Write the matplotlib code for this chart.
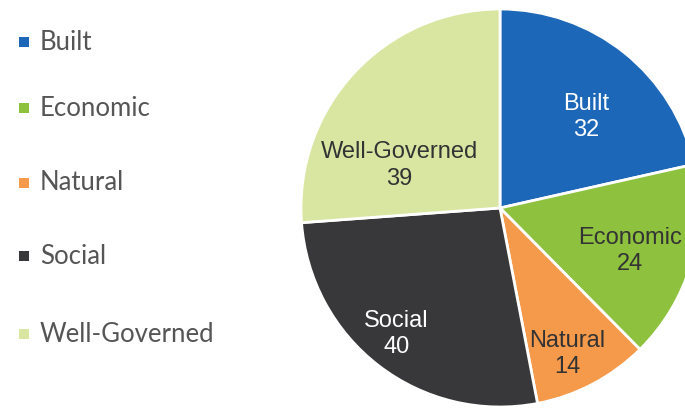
import numpy as np
import matplotlib
matplotlib.use("Agg")
import matplotlib.pyplot as plt
from matplotlib.patches import Rectangle

# Capital categories and their counts
categories = ["Built", "Economic", "Natural", "Social", "Well-Governed"]
counts = [32, 24, 14, 40, 39]
colors = ["#1c67b7", "#8dc13e", "#f59a4b", "#38383a", "#d8e6a2"]
label_colors = ["white", "#333333", "#333333", "white", "#333333"]

# label placement inside each wedge: (radius fraction, angle offset in degrees)
label_radius = [0.63, 0.69, 0.81, 0.82, 0.55]
label_angle_shift = [-5, -2, -3, -2, 20]

fig = plt.figure(figsize=(6.85, 4.08), dpi=100)
W, H = 685, 408
cx, cy, r = 500, 208, 199
ax = fig.add_axes([(cx - r) / W, (H - cy - r) / H, 2 * r / W, 2 * r / H])

wedges, _ = ax.pie(counts, colors=colors, startangle=90, counterclock=False,
                   radius=1.0,
                   wedgeprops=dict(edgecolor="white", linewidth=2.0))
ax.set_xlim(-1, 1)
ax.set_ylim(-1, 1)
ax.set_aspect("equal")
ax.axis("off")

for w, name, val, lc, rf, da in zip(wedges, categories, counts, label_colors,
                                    label_radius, label_angle_shift):
    mid = np.deg2rad((w.theta1 + w.theta2) / 2 + da)
    x, y = rf * np.cos(mid), rf * np.sin(mid)
    ax.text(x, y, f"{name}\n{val}", ha="center", va="center", color=lc,
            fontsize=17, family="Liberation Sans", linespacing=1.25,
            clip_on=False)

# Legend on the left
legend_y = [42, 108, 183, 256, 334]
for name, col, yy in zip(categories, colors, legend_y):
    fig.patches.append(Rectangle((19 / W, (H - yy - 5) / H), 10 / W, 10 / H,
                                 transform=fig.transFigure, facecolor=col,
                                 edgecolor="none"))
    fig.text(40 / W, (H - yy) / H, name, ha="left", va="center",
             color="#555555", fontsize=18.5, family="Lato")

fig.savefig("out.png", dpi=100)
